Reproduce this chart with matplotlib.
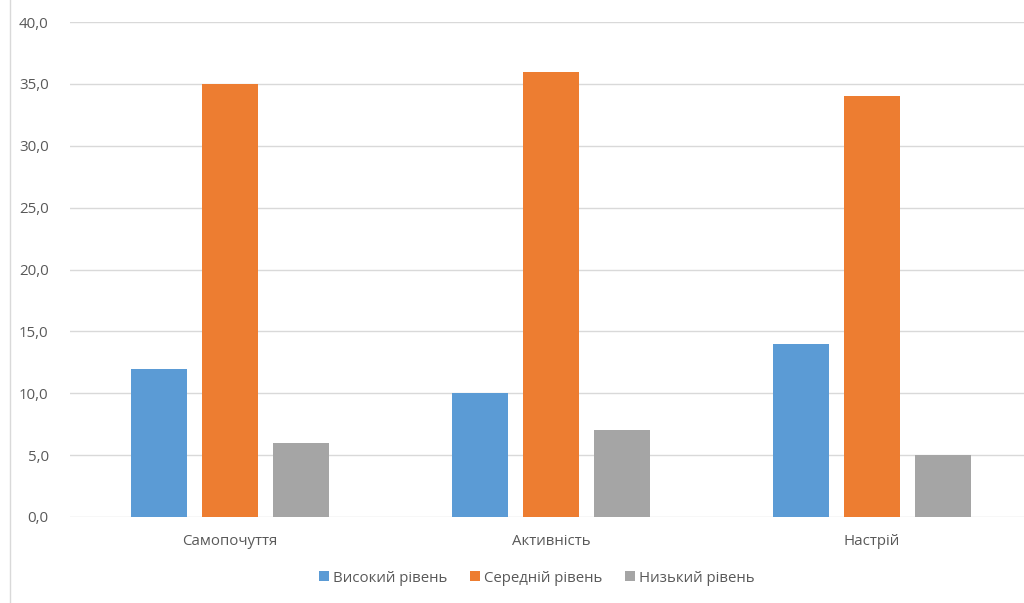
import matplotlib
matplotlib.use("Agg")
import matplotlib.pyplot as plt
import numpy as np

categories = ["Самопочуття", "Активність", "Настрій"]
series_names = ["Високий рівень", "Середній рівень", "Низький рівень"]
high = [12, 10, 14]
medium = [35, 36, 34]
low = [6, 7, 5]
colors = ["#5B9BD5", "#ED7D31", "#A5A5A5"]

plt.rcParams['font.family'] = ['Open Sans', 'DejaVu Sans']

fig = plt.figure(figsize=(10.24, 6.03), dpi=100)
W, H = 1024, 603
x0, x1 = 69.5, 1032.5
y0, y1 = 517, 22
ax = fig.add_axes([x0 / W, (H - y0) / H, (x1 - x0) / W, (y0 - y1) / H])

x = np.arange(len(categories))
bw = 0.174
pitch = 0.221
for i, (vals, name) in enumerate(zip([high, medium, low], series_names)):
    ax.bar(x + (i - 1) * pitch, vals, width=bw, color=colors[i], label=name, zorder=3)

ax.set_xlim(-0.5, len(categories) - 0.5)
ax.set_ylim(0, 40)
ax.set_yticks(np.arange(0, 40.1, 5))
ax.set_yticklabels([f"{v:.1f}".replace(".", ",") for v in np.arange(0, 40.1, 5)])
ax.set_xticks(x)
ax.set_xticklabels(categories)
ax.tick_params(axis='both', length=0, colors="#595959", labelsize=10.8)
ax.tick_params(axis='y', pad=15)
ax.tick_params(axis='x', pad=12)
ax.grid(axis='y', color="#D9D9D9", linewidth=1, zorder=0)
for s in ax.spines.values():
    s.set_visible(False)

# left chart border
fig.add_artist(plt.Line2D([10 / W, 10 / W], [0, 1], color="#D9D9D9", linewidth=1))

leg = fig.legend(loc='center', bbox_to_anchor=(537 / W, (H - 578) / H), ncol=3, frameon=False,
                 fontsize=10.8, handlelength=0.65, handleheight=0.65, handletextpad=0.3,
                 columnspacing=1.5, labelcolor="#595959")

fig.savefig("out.png", dpi=100, facecolor="white")
